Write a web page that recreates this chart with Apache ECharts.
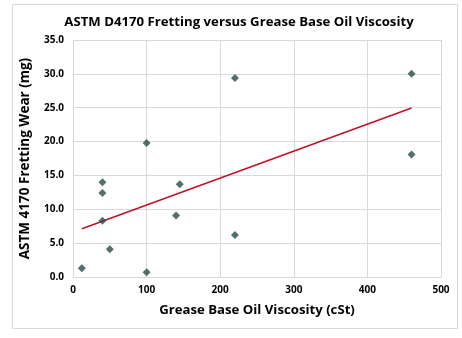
<!DOCTYPE html>
<html>
<head>
<meta charset="utf-8">
<script src="https://cdn.jsdelivr.net/npm/echarts@6/dist/echarts.min.js"></script>
<style>
  html, body { margin: 0; padding: 0; background: #fff; }
  #chart { width: 462px; height: 338px; }
</style>
</head>
<body>
<div id="chart"></div>
<script>
// Base oil viscosity (cSt) and fretting wear (mg) for each grease tested
const viscosity = [12, 40, 40, 40, 50, 100, 100, 140, 145, 220, 220, 460, 460];
const wear      = [1.3, 14.0, 12.4, 8.3, 4.1, 0.7, 19.8, 9.1, 13.7, 6.2, 29.4, 30.0, 18.1];

const xTicks = [0, 100, 200, 300, 400, 500];
const yTicks = [0, 5, 10, 15, 20, 25, 30, 35];

// Least-squares linear fit over the measured points
function linearFit(xs, ys) {
  const n = xs.length;
  const mx = xs.reduce((a, b) => a + b, 0) / n;
  const my = ys.reduce((a, b) => a + b, 0) / n;
  let sxy = 0, sxx = 0;
  for (let i = 0; i < n; i++) {
    sxy += (xs[i] - mx) * (ys[i] - my);
    sxx += (xs[i] - mx) * (xs[i] - mx);
  }
  const slope = sxy / sxx;
  return { slope, intercept: my - slope * mx };
}
const fit = linearFit(viscosity, wear);
const xMin = Math.min(...viscosity), xMax = Math.max(...viscosity);
const trend = [xMin, xMax].map(x => [x, fit.intercept + fit.slope * x]);

const points = viscosity.map((x, i) => [x, wear[i]]);

const FONT = '"Open Sans", Lato, sans-serif';
const chart = echarts.init(document.getElementById('chart'), null, { renderer: 'canvas' });
chart.setOption({
  animation: false,
  backgroundColor: '#fff',
  graphic: [{
    type: 'rect',
    shape: { x: 12.5, y: 4.5, width: 445, height: 324 },
    style: { fill: 'none', stroke: '#d9d9d9', lineWidth: 1 },
    silent: true,
    z: -10
  }],
  title: {
    text: 'ASTM D4170 Fretting versus Grease Base Oil Viscosity',
    left: 234, top: 11, textAlign: 'center',
    textStyle: { fontFamily: FONT, fontWeight: 'bold', fontSize: 13.2, color: '#000' }
  },
  grid: { left: 73, right: 21, top: 40, bottom: 61, containLabel: false },
  xAxis: {
    type: 'value', min: xTicks[0], max: xTicks[xTicks.length - 1], interval: 100,
    name: 'Grease Base Oil Viscosity (cSt)',
    nameLocation: 'middle', nameGap: 27,
    nameTextStyle: { fontFamily: FONT, fontWeight: 'bold', fontSize: 13.2, color: '#000' },
    axisLine: { show: true, lineStyle: { color: '#d9d9d9' } },
    axisTick: { show: false },
    axisLabel: { fontFamily: FONT, fontWeight: 'bold', fontSize: 10, color: '#000', margin: 8 },
    splitLine: { show: true, lineStyle: { color: '#d9d9d9' } }
  },
  yAxis: {
    type: 'value', min: yTicks[0], max: yTicks[yTicks.length - 1], interval: 5,
    name: 'ASTM 4170 Fretting Wear (mg)',
    nameLocation: 'middle', nameGap: 41,
    nameTextStyle: { fontFamily: FONT, fontWeight: 'bold', fontSize: 13.5, color: '#000' },
    axisLine: { show: true, lineStyle: { color: '#d9d9d9' } },
    axisTick: { show: false },
    axisLabel: {
      fontFamily: FONT, fontWeight: 'bold', fontSize: 10, color: '#000', margin: 9,
      formatter: v => v.toFixed(1)
    },
    splitLine: { show: true, lineStyle: { color: '#d9d9d9' } }
  },
  series: [
    {
      type: 'line', data: trend, symbol: 'none',
      lineStyle: { color: '#c0102a', width: 1.5 }, z: 2, silent: true
    },
    {
      type: 'scatter', data: points, symbol: 'diamond', symbolSize: 8,
      itemStyle: { color: '#2b4a4a' }, z: 3
    }
  ]
});
</script>
</body>
</html>
